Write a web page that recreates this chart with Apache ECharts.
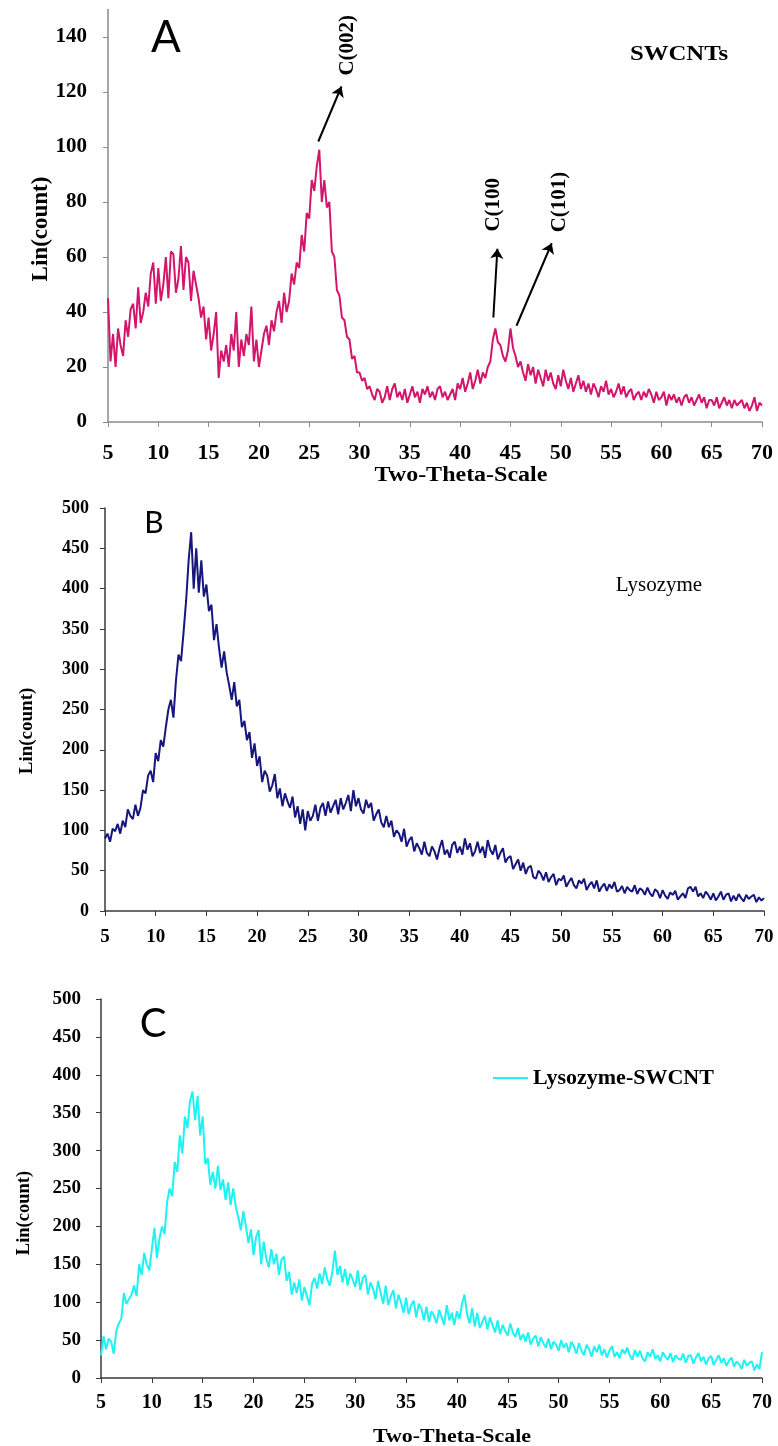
<!DOCTYPE html>
<html>
<head>
<meta charset="utf-8">
<script src="https://cdn.jsdelivr.net/npm/echarts@6/dist/echarts.min.js"></script>
<style>
    html, body { margin: 0; padding: 0; background: #fff; }
    #chart { width: 778px; height: 1446px; }
</style>
</head>
<body>
<div id="chart"></div>
<script>
// 2θ grid: 5° .. 70°, one reading every 0.25°
const twoThetaStart = 5
const twoThetaStep = 0.25

// A - SWCNTs, one row per degree (x.00, x.25, x.50, x.75)
const swcntCounts = [
    45, 22, 32, 20,   // 5
    34, 28, 24, 37,
    31, 41, 43, 34,
    49, 36, 40, 47,
    42, 54, 58, 43,
    56, 44, 50, 60,   // 10
    45, 62, 61, 47,
    52, 64, 48, 60,
    58, 44, 55, 50,
    45, 38, 42, 30,
    38, 26, 32, 40,   // 15
    16, 26, 22, 28,
    20, 32, 26, 40,
    20, 30, 24, 32,
    28, 42, 22, 30,
    20, 26, 32, 35,   // 20
    28, 37, 33, 40,
    44, 36, 47, 40,
    44, 54, 50, 58,
    56, 68, 62, 76,
    74, 88, 84, 93,   // 25
    99, 80, 88, 78,
    80, 62, 60, 48,
    46, 38, 37, 31,
    30, 23, 24, 18,
    18, 15, 16, 12,   // 30
    13, 10, 8, 12,
    11, 7, 9, 13,
    8, 12, 14, 9,
    11, 8, 12, 7,
    10, 13, 9, 11,    // 35
    7, 12, 10, 13,
    9, 11, 8, 12,
    13, 9, 11, 8,
    10, 12, 8, 14,
    12, 16, 11, 14,   // 40
    18, 12, 15, 19,
    14, 18, 16, 20,
    22, 30, 34, 29,
    28, 24, 22, 26,
    34, 27, 24, 20,   // 45
    22, 18, 15, 21,
    17, 20, 14, 19,
    16, 13, 19, 15,
    18, 14, 12, 17,
    13, 19, 15, 12,   // 50
    16, 11, 14, 17,
    12, 15, 11, 14,
    10, 14, 12, 9,
    13, 11, 15, 10,
    12, 9, 11, 14,    // 55
    10, 13, 9, 11,
    12, 8, 10, 11,
    8, 11, 9, 12,
    10, 7, 11, 8,
    9, 11, 6, 10,     // 60
    8, 10, 7, 9,
    6, 9, 10, 7,
    9, 6, 8, 10,
    7, 9, 5, 8,
    8, 6, 9, 5,       // 65
    7, 9, 6, 8,
    5, 8, 6, 7,
    8, 5, 7, 4,
    6, 9, 4, 7,
    6                 // 70
]

// B - Lysozyme
const lysozymeCounts = [
    90, 96, 86, 102,      // 5
    99, 108, 96, 112,
    104, 126, 118, 114,
    132, 118, 128, 150,
    146, 168, 174, 160,
    196, 186, 212, 204,   // 10
    228, 250, 262, 240,
    286, 318, 310, 346,
    385, 435, 470, 400,
    450, 395, 435, 390,
    405, 372, 380, 336,   // 15
    356, 326, 302, 322,
    296, 280, 262, 284,
    254, 262, 228, 236,
    212, 222, 190, 208,
    180, 192, 160, 174,   // 20
    168, 148, 156, 170,
    140, 152, 130, 146,
    136, 128, 142, 116,
    130, 108, 126, 100,
    124, 112, 118, 132,   // 25
    112, 128, 134, 118,
    136, 122, 130, 138,
    120, 140, 126, 134,
    144, 124, 150, 130,
    140, 126, 121, 138,   // 30
    128, 134, 112, 120,
    126, 110, 104, 118,
    104, 112, 92, 100,
    96, 86, 102, 80,
    88, 92, 74, 84,       // 35
    78, 70, 86, 72,
    68, 80, 74, 64,
    78, 88, 70, 76,
    66, 82, 86, 72,
    80, 70, 90, 76,       // 40
    84, 68, 74, 86,
    72, 80, 66, 88,
    76, 70, 82, 64,
    72, 78, 60, 66,
    68, 52, 58, 64,       // 45
    50, 60, 46, 54,
    56, 42, 40, 50,
    46, 38, 48, 36,
    42, 46, 32, 40,
    38, 44, 30, 36,       // 50
    41, 32, 28, 38,
    34, 40, 26, 32,
    36, 28, 38, 24,
    30, 34, 25, 33,
    28, 36, 24, 26,       // 55
    31, 22, 30, 26,
    24, 32, 21, 28,
    26, 20, 29, 22,
    18, 27, 24, 16,
    26, 19, 15, 23,       // 60
    20, 25, 14, 18,
    22, 16, 28, 30,
    24, 30, 18, 22,
    16, 24, 20, 14,
    22, 13, 18, 24,       // 65
    14, 20, 22, 12,
    19, 13, 21, 16,
    12, 20, 15, 18,
    20, 11, 17, 13,
    16                    // 70
]

// C - Lysozyme-SWCNT
const lysoSwcntCounts = [
    30, 55, 38, 52,       // 5
    48, 32, 62, 72,
    78, 112, 98, 104,
    110, 122, 108, 150,
    136, 165, 150, 142,
    170, 198, 158, 184,   // 10
    200, 190, 232, 250,
    240, 285, 272, 320,
    296, 345, 330, 365,
    378, 340, 372, 320,
    345, 282, 290, 255,   // 15
    272, 250, 280, 248,
    262, 235, 258, 228,
    250, 226, 212, 195,
    220, 200, 178, 196,
    162, 186, 195, 150,   // 20
    180, 158, 146, 170,
    150, 164, 136, 156,
    160, 128, 140, 110,
    126, 112, 130, 102,
    120, 108, 96, 124,    // 25
    132, 118, 138, 124,
    146, 130, 122, 140,
    168, 136, 148, 126,
    144, 122, 138, 130,
    120, 142, 116, 132,   // 30
    136, 110, 126, 118,
    104, 128, 112, 98,
    122, 96, 108, 116,
    92, 110, 100, 86,
    106, 84, 96, 102,     // 35
    80, 98, 92, 76,
    94, 74, 88, 82,
    72, 90, 80, 70,
    96, 76, 86, 70,
    88, 78, 98, 110,      // 40
    84, 72, 92, 68,
    86, 66, 74, 82,
    64, 80, 70, 60,
    76, 58, 70, 62,
    56, 72, 60, 54,       // 45
    66, 50, 58, 48,
    60, 44, 52, 56,
    42, 54, 46, 40,
    52, 38, 48, 44,
    36, 50, 40, 46,       // 50
    34, 48, 42, 32,
    46, 36, 30, 44,
    38, 28, 42, 34,
    44, 30, 38, 27,
    36, 42, 28, 34,       // 55
    26, 38, 32, 40,
    30, 24, 37, 28,
    36, 26, 22, 34,
    28, 38, 25, 30,
    22, 34, 28, 24,       // 60
    33, 21, 30, 26,
    24, 32, 20, 29,
    30, 19, 27, 33,
    22, 28, 18, 26,
    29, 17, 24, 30,       // 65
    20, 26, 16, 23,
    27, 15, 22, 18,
    12, 24, 16, 20,
    22, 10, 18, 12,
    34                    // 70
]

// tick labels
const yTicksA = [0, 20, 40, 60, 80, 100, 120, 140]

// peak annotations on A: arrow tail, arrow head, text anchor (data coords)
const peakNames = ['C(002)', 'C(100', 'C(101)']
const peakArrowFrom = [[25.9, 102], [43.3, 38], [45.6, 35]]
const peakArrowTo = [[28.2, 122], [43.7, 63], [49.1, 65]]
const peakLabelAt = [[28.8, 137], [43.3, 79], [49.9, 80]]

const pairs = (vals) => vals.map((v, i) => [twoThetaStart + i * twoThetaStep, v])

const serif = '"Liberation Serif", "Times New Roman", serif'
const sans = 'Lato, "Open Sans", sans-serif'

const xAxisBase = (gridIndex, fontSize, margin, lineColor) => ({
    type: 'value',
    gridIndex,
    min: 5,
    max: 70,
    interval: 5,
    axisLine: { show: true, onZero: false, lineStyle: { color: lineColor, width: 1.5 } },
    axisTick: { show: true, length: 5, lineStyle: { color: lineColor } },
    splitLine: { show: false },
    axisLabel: { color: '#000', fontFamily: serif, fontWeight: 'bold', fontSize, margin },
})

const yAxisBase = (gridIndex, max, interval, fontSize, margin, lineColor) => ({
    type: 'value',
    gridIndex,
    min: 0,
    max,
    interval,
    axisLine: { show: true, lineStyle: { color: lineColor, width: 1.5 } },
    axisTick: { show: true, length: 5, lineStyle: { color: lineColor } },
    splitLine: { show: false },
    axisLabel: { color: '#000', fontFamily: serif, fontWeight: 'bold', fontSize, margin },
})

const chart = echarts.init(document.getElementById('chart'), null, { renderer: 'canvas' })

const yA = yAxisBase(0, 150, 10, 21, 21, '#8a8a8a')
yA.axisLabel.customValues = yTicksA
yA.axisTick.customValues = yTicksA

// plain text helper for titles / panel letters
const label = (x, y, text, font, extra) => Object.assign({
    type: 'text', x, y,
    style: { text, font, fill: '#000', textAlign: 'center', textVerticalAlign: 'middle' },
}, extra || {})

chart.setOption({
    animation: false,
    backgroundColor: '#fff',
    grid: [
        { left: 108, right: 16, top: 9.5, bottom: 1024, outerBoundsMode: 'none' },
        { left: 105, right: 14, top: 508, bottom: 535, outerBoundsMode: 'none' },
        { left: 101, right: 16, top: 999, bottom: 68, outerBoundsMode: 'none' },
    ],
    xAxis: [
        xAxisBase(0, 22, 20, '#8a8a8a'),
        xAxisBase(1, 19, 17, '#3a3a3a'),
        xAxisBase(2, 20, 15, '#3a3a3a'),
    ],
    yAxis: [
        yA,
        yAxisBase(1, 500, 50, 18, 16, '#3a3a3a'),
        yAxisBase(2, 500, 50, 19, 20, '#3a3a3a'),
    ],
    legend: {
        data: ['Lysozyme-SWCNT'],
        icon: 'rect',
        left: 488,
        top: 1062,
        itemWidth: 35,
        itemHeight: 2,
        itemGap: 6,
        textStyle: { color: '#000', fontFamily: serif, fontWeight: 'bold', fontSize: 22 },
    },
    series: [
        {
            name: 'SWCNTs',
            type: 'line',
            xAxisIndex: 0,
            yAxisIndex: 0,
            symbol: 'none',
            lineStyle: { color: '#d3156b', width: 2 },
            itemStyle: { color: '#d3156b' },
            data: pairs(swcntCounts),
            markLine: {
                silent: true,
                symbol: ['none', 'arrow'],
                symbolSize: 10,
                label: { show: false },
                lineStyle: { color: '#000', width: 2, type: 'solid' },
                data: peakNames.map((n, i) => [{ coord: peakArrowFrom[i] }, { coord: peakArrowTo[i] }]),
            },
            markPoint: {
                silent: true,
                symbol: 'rect',
                symbolSize: 1,
                itemStyle: { color: 'rgba(0,0,0,0)' },
                label: {
                    show: true,
                    position: 'inside',
                    rotate: 90,
                    formatter: (p) => p.name,
                    color: '#000',
                    fontFamily: serif,
                    fontWeight: 'bold',
                    fontSize: 21,
                },
                data: peakNames.map((n, i) => ({ name: n, coord: peakLabelAt[i] })),
            },
        },
        {
            name: 'Lysozyme',
            type: 'line',
            xAxisIndex: 1,
            yAxisIndex: 1,
            symbol: 'none',
            lineStyle: { color: '#16167c', width: 2 },
            itemStyle: { color: '#16167c' },
            data: pairs(lysozymeCounts),
        },
        {
            name: 'Lysozyme-SWCNT',
            type: 'line',
            xAxisIndex: 2,
            yAxisIndex: 2,
            symbol: 'none',
            lineStyle: { color: '#1ff2f2', width: 2 },
            itemStyle: { color: '#1ff2f2' },
            data: pairs(lysoSwcntCounts),
        },
    ],
    graphic: [
        // panel letters
        label(166, 38, 'A', '44px ' + sans),
        label(154, 523, 'B', '30px ' + sans),
        label(153, 1024, 'C', '40px ' + sans),
        // sample names
        label(679, 55, 'SWCNTs', 'bold 21px ' + serif, { scaleX: 1.18 }),
        label(659, 585, 'Lysozyme', '21px ' + serif),
        // axis titles
        label(461, 476, 'Two-Theta-Scale', 'bold 20px ' + serif, { scaleX: 1.2 }),
        label(452, 1437, 'Two-Theta-Scale', 'bold 18px ' + serif, { scaleX: 1.22 }),
        label(41, 229, 'Lin(count)', 'bold 23px ' + serif, { rotation: Math.PI / 2 }),
        label(27, 731, 'Lin(count)', 'bold 19px ' + serif, { rotation: Math.PI / 2 }),
        label(24, 1213, 'Lin(count)', 'bold 18.5px ' + serif, { rotation: Math.PI / 2 }),
    ],
})
</script>
</body>
</html>
